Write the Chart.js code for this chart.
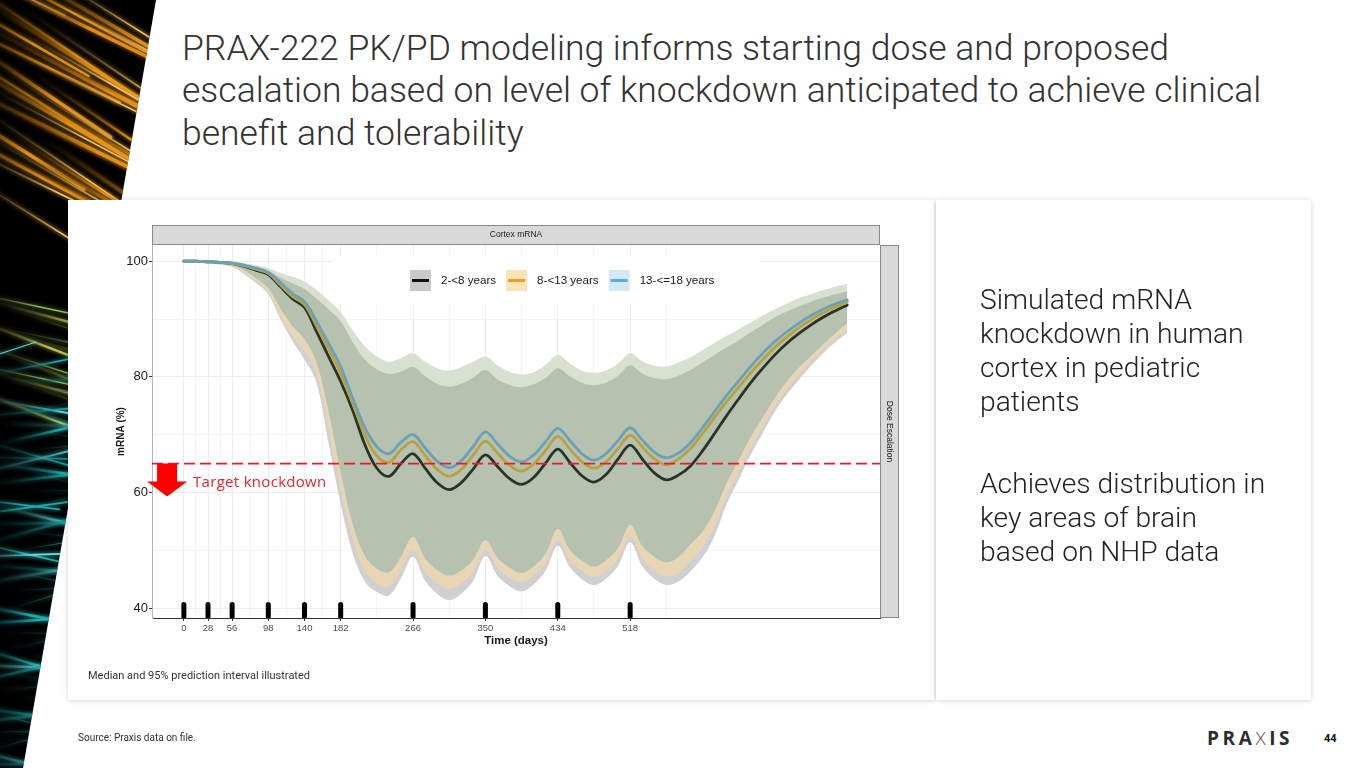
<!DOCTYPE html>
<html>
<head>
<meta charset="utf-8">
<title>PRAX-222 PK/PD modeling</title>
<script src="https://cdn.jsdelivr.net/npm/chart.js@4.4.1/dist/chart.umd.min.js"></script>
<style>
  html, body { margin: 0; padding: 0; background: #fff; }
  body { width: 1365px; height: 768px; position: relative; overflow: hidden; font-family: Roboto, 'Noto Sans', sans-serif; }
  #deco { position: absolute; left: 0; top: 0; }
  .title { position: absolute; left: 182px; top: 26.5px; white-space: nowrap; font-size: 35.5px; line-height: 42.5px; font-weight: 300; color: #333; }
  .card { position: absolute; background: #fff; box-shadow: 0 0 6px rgba(0,0,0,0.13), 0 2px 4px rgba(0,0,0,0.06); }
  #chartCard { left: 68px; top: 200px; width: 866px; height: 500px; }
  #textCard { left: 936px; top: 200px; width: 375px; height: 500px; }
  #chart { position: absolute; left: 2px; top: 0; }
  .side { position: absolute; left: 980px; white-space: nowrap; font-size: 28.2px; line-height: 34px; font-weight: 300; color: #222; }
  .target { position: absolute; left: 193px; top: 472px; font-family: 'Open Sans', sans-serif; font-size: 15px; line-height: 18px; color: #e8262d; letter-spacing: 0.3px; white-space: nowrap; }
  .note { position: absolute; left: 88px; top: 669px; font-size: 11px; line-height: 13px; color: #333; white-space: nowrap; }
  .source { position: absolute; left: 78px; top: 732px; font-size: 10px; line-height: 12px; color: #333; white-space: nowrap; }
  .logo { position: absolute; left: 1207px; top: 726px; font-family: 'Open Sans', sans-serif; font-size: 19px; line-height: 24px; font-weight: 700; letter-spacing: 3.6px; color: #2e2e2e; }
  .logo span { font-weight: 300; color: #555; }
  .page { position: absolute; left: 1324px; top: 732px; font-size: 11px; line-height: 13px; font-weight: 700; color: #111; }
</style>
</head>
<body>
<canvas id="deco" width="170" height="768"></canvas>

<div class="title">PRAX-222 PK/PD modeling informs starting dose and proposed<br>escalation based on level of knockdown anticipated to achieve clinical<br>benefit and tolerability</div>

<div class="card" id="chartCard"><canvas id="chart" width="860" height="460"></canvas></div>
<div class="card" id="textCard"></div>

<div class="target">Target knockdown</div>
<div class="note">Median and 95% prediction interval illustrated</div>

<div class="side" style="top:283px">Simulated mRNA<br>knockdown in human<br>cortex in pediatric<br>patients</div>
<div class="side" style="top:467px">Achieves distribution in<br>key areas of brain<br>based on NHP data</div>

<div class="source">Source: Praxis data on file.</div>
<div class="logo">PRA<span>X</span>IS</div>
<div class="page">44</div>

<script>
// time grid (days)
const days = [
  0, 14, 28, 42, 56, 70, 84, 98, 112, 126, 140, 154, 168, 182,
  196, 210, 224, 238, 252, 266, 280, 294, 308, 322, 336, 350, 364, 378,
  392, 406, 420, 434, 448, 462, 476, 490, 504, 518, 532, 546, 560, 574,
  588, 602, 616, 630, 644, 658, 672, 686, 700, 714, 728, 742, 756, 770
];

// medians
const med2_8 = [
  100, 100, 99.9, 99.8, 99.6, 99.1, 98.4, 97.7, 95.6, 93.5, 92.0, 87.8, 83.5, 79.2,
  74.2, 68.3, 64.2, 62.8, 65.0, 66.7, 64.2, 61.7, 60.5, 61.7, 64.1, 66.5, 64.5, 62.4,
  61.4, 62.6, 65.1, 67.5, 65.2, 62.9, 61.8, 63.1, 65.8, 68.2, 65.8, 63.4, 62.2, 63.0,
  64.6, 67.2, 70.2, 73.3, 76.2, 79.0, 81.5, 83.8, 85.8, 87.5, 89.0, 90.3, 91.4, 92.4
];
const med8_13 = [
  100, 100, 99.9, 99.8, 99.6, 99.2, 98.6, 97.9, 95.9, 93.9, 92.5, 88.8, 84.8, 80.6,
  75.4, 70.0, 66.3, 65.2, 67.4, 68.8, 66.4, 64.0, 62.8, 64.0, 66.5, 68.9, 66.8, 64.7,
  63.7, 64.9, 67.3, 69.7, 67.5, 65.3, 64.2, 65.3, 67.6, 69.9, 67.9, 65.8, 64.8, 65.8,
  67.6, 70.2, 73.0, 75.7, 78.2, 80.7, 83.0, 85.1, 86.9, 88.5, 89.9, 91.1, 92.1, 92.9
];
const med13_18 = [
  100, 100, 99.9, 99.8, 99.7, 99.3, 98.8, 98.1, 96.3, 94.4, 93.0, 89.6, 85.8, 81.8,
  76.3, 71.2, 67.9, 66.7, 68.7, 70.0, 67.7, 65.4, 64.3, 65.5, 68.0, 70.5, 68.4, 66.3,
  65.3, 66.5, 68.8, 71.1, 69.0, 66.7, 65.6, 66.7, 69.0, 71.2, 69.1, 67.0, 66.0, 66.8,
  68.6, 71.2, 74.0, 76.8, 79.3, 81.8, 84.1, 86.1, 87.8, 89.3, 90.6, 91.7, 92.6, 93.3
];

// 95% prediction interval bounds
const lo2_8 = [
  100, 99.9, 99.7, 99.4, 99.0, 97.8, 96.2, 94.3, 90.0, 86.2, 83.0, 79.0, 68.5, 58.0,
  49.5, 44.6, 42.8, 42.2, 45.2, 48.9, 44.8, 42.5, 41.4, 42.5, 44.8, 49.0, 45.6, 43.8,
  42.9, 44.1, 46.5, 50.8, 47.1, 45.0, 44.0, 45.1, 47.3, 51.4, 47.3, 45.1, 44.0, 44.6,
  46.4, 48.8, 52.5, 58.0, 62.2, 66.6, 70.3, 74.0, 77.0, 79.5, 81.9, 84.1, 86.0, 87.6
];
const hi2_8 = [
  100, 100, 99.9, 99.8, 99.6, 99.4, 98.9, 98.2, 97.2, 96.2, 95.2, 93.5, 91.7, 89.6,
  86.0, 83.0, 81.3, 80.5, 80.9, 81.7, 80.1, 78.8, 78.3, 78.8, 79.9, 81.2, 79.6, 78.6,
  78.2, 78.7, 79.8, 81.5, 80.1, 79.0, 78.6, 79.0, 80.2, 82.0, 80.6, 79.8, 79.6, 80.2,
  81.2, 82.5, 83.8, 85.1, 86.3, 87.7, 89.0, 90.3, 91.3, 92.2, 93.0, 93.7, 94.3, 94.8
];
const lo8_13 = [
  100, 99.9, 99.8, 99.5, 99.1, 98.0, 96.5, 94.6, 90.6, 87.0, 84.5, 80.5, 71.0, 60.5,
  51.8, 46.5, 44.3, 43.7, 46.5, 50.0, 46.3, 44.3, 43.3, 44.3, 46.4, 50.1, 47.0, 45.3,
  44.5, 45.6, 47.8, 51.8, 48.3, 46.4, 45.4, 46.5, 48.6, 52.4, 48.6, 46.5, 45.5, 46.2,
  48.2, 50.6, 54.2, 59.5, 63.6, 67.8, 71.4, 75.0, 77.9, 80.4, 82.7, 84.8, 86.7, 88.2
];
const hi8_13 = [
  100, 100, 99.9, 99.8, 99.7, 99.5, 99.1, 98.5, 97.6, 96.8, 95.8, 94.2, 92.4, 90.4,
  87.0, 84.1, 82.4, 81.5, 82.0, 82.9, 81.3, 80.1, 79.7, 80.2, 81.2, 82.3, 80.8, 79.7,
  79.3, 79.7, 80.9, 82.6, 81.2, 80.0, 79.6, 80.0, 81.2, 83.0, 81.6, 80.8, 80.7, 81.3,
  82.3, 83.5, 84.8, 86.1, 87.2, 88.5, 89.8, 91.0, 92.0, 92.9, 93.6, 94.3, 94.9, 95.4
];
const lo13_18 = [
  100, 99.9, 99.8, 99.6, 99.3, 98.4, 97.0, 95.3, 91.8, 88.8, 86.5, 82.5, 74.0, 63.5,
  54.5, 49.0, 46.8, 46.2, 48.9, 52.3, 48.6, 46.6, 45.6, 46.5, 48.4, 51.8, 48.7, 47.0,
  46.1, 47.2, 49.5, 53.7, 50.1, 48.2, 47.2, 48.3, 50.4, 54.4, 50.8, 48.9, 47.9, 48.8,
  51.0, 53.2, 56.8, 61.6, 65.6, 69.6, 73.0, 76.4, 79.2, 81.6, 83.6, 85.6, 87.5, 89.3
];
const hi13_18 = [
  100, 100, 100, 99.9, 99.8, 99.7, 99.3, 98.8, 98.0, 97.3, 96.5, 95.0, 93.2, 91.2,
  88.0, 85.3, 83.5, 82.6, 83.2, 84.1, 82.6, 81.5, 81.1, 81.7, 82.6, 83.5, 82.0, 80.9,
  80.4, 80.8, 82.1, 83.8, 82.3, 81.1, 80.7, 81.1, 82.3, 84.1, 82.7, 81.9, 81.8, 82.5,
  83.4, 84.6, 85.9, 87.1, 88.2, 89.4, 90.6, 91.7, 92.7, 93.6, 94.3, 95.0, 95.6, 96.1
];

const doseDays = [0, 28, 56, 98, 140, 182, 266, 350, 434, 518];
const xMinor = [14, 42, 77, 119, 161, 224, 308, 392, 476, 560];
const yTicks = [40, 60, 80, 100];
const yMinor = [50, 70, 90];
const seriesLabels = ['2-<8 years', '8-<13 years', '13-<=18 years'];
const targetKnockdown = 65;
const doseMarkerLevel = 39.6;

// ---- left decoration (fibre streaks) ----
(function () {
  const d = document.getElementById('deco').getContext('2d');
  d.fillStyle = '#000';
  d.beginPath();
  d.moveTo(0, 0); d.lineTo(156, 0); d.lineTo(23, 768); d.lineTo(0, 768);
  d.closePath();
  d.fill();
  d.save();
  d.clip();
  d.lineCap = 'round';
  function streak(x, y, ang, len, col, w) {
    const a = ang * Math.PI / 180;
    const x2 = x + Math.cos(a) * len, y2 = y + Math.sin(a) * len;
    const g = d.createLinearGradient(x, y, x2, y2);
    g.addColorStop(0, 'rgba(0,0,0,0)');
    g.addColorStop(0.6, col);
    g.addColorStop(1, col);
    d.strokeStyle = g;
    d.lineWidth = w;
    d.shadowColor = col;
    d.shadowBlur = 4;
    d.beginPath(); d.moveTo(x, y); d.lineTo(x2, y2); d.stroke();
  }
  for (let i = 0; i < 34; i++) {
    streak(-70 + (i * 37) % 120, -50 + i * 6.5, 26 + (i % 5) * 2, 150 + (i * 53) % 120,
      i % 3 ? 'rgba(230,145,20,0.95)' : 'rgba(255,195,90,1)', 1.6 + (i % 3) * 0.9);
  }
  for (let i = 0; i < 12; i++) {
    streak(-40 + (i * 23) % 60, 290 + i * 9, 12 + (i % 4) * 3, 130 + (i * 31) % 80,
      i % 2 ? 'rgba(200,205,80,0.9)' : 'rgba(150,200,90,0.9)', 1.4 + (i % 2));
  }
  for (let i = 0; i < 60; i++) {
    streak(-50 + (i * 29) % 90, 370 + i * 6.7, -18 + (i * 7) % 36, 90 + (i * 41) % 110,
      i % 4 ? 'rgba(30,175,175,0.95)' : 'rgba(100,225,225,1)', 1 + (i % 3) * 0.8);
  }
  d.restore();
})();

// ---- chart ----
function pts(arr) { return days.map((d, i) => ({ x: d, y: arr[i] })); }

const band = { pointRadius: 0, borderWidth: 0, borderColor: 'rgba(0,0,0,0)', tension: 0.35 };
const median = { pointRadius: 0, borderWidth: 2.8, fill: false, tension: 0.35, borderCapStyle: 'round' };

const facetStrips = {
  id: 'facetStrips',
  afterDraw(chart) {
    const c = chart.ctx, a = chart.chartArea;
    c.save();
    c.fillStyle = '#d9d9d9';
    c.strokeStyle = '#8a8a8a';
    c.lineWidth = 1;
    c.fillRect(a.left, a.top - 20, a.right - a.left, 20);
    c.strokeRect(a.left + 0.5, a.top - 19.5, a.right - a.left - 1, 19);
    c.fillRect(a.right, a.top, 19, a.bottom - a.top);
    c.strokeRect(a.right + 0.5, a.top + 0.5, 18, a.bottom - a.top - 1);
    c.fillStyle = '#1a1a1a';
    c.font = '8.5px "Liberation Sans", Arial, sans-serif';
    c.textAlign = 'center';
    c.textBaseline = 'middle';
    c.fillText('Cortex mRNA', (a.left + a.right) / 2, a.top - 10);
    c.translate(a.right + 9.5, (a.top + a.bottom) / 2);
    c.rotate(Math.PI / 2);
    c.fillText('Dose Escalation', 0, 0);
    c.restore();
  }
};

const ggLegend = {
  id: 'ggLegend',
  beforeDatasetsDraw(chart) {
    const c = chart.ctx;
    const keys = [
      { fill: '#c9c9c9', line: '#111' },
      { fill: '#fbe3b8', line: '#e6a126' },
      { fill: '#d3eaf5', line: '#5aaedb' }
    ];
    c.save();
    c.fillStyle = '#fff';
    c.fillRect(263, 55, 427, 50);
    c.font = '11.6px "Liberation Sans", Arial, sans-serif';
    c.textBaseline = 'middle';
    let x = 340;
    const y = 70;
    seriesLabels.forEach((lab, i) => {
      c.fillStyle = keys[i].fill;
      c.fillRect(x, y, 21, 21);
      c.strokeStyle = keys[i].line;
      c.lineWidth = 3;
      c.beginPath(); c.moveTo(x + 2, y + 10.5); c.lineTo(x + 19, y + 10.5); c.stroke();
      c.fillStyle = '#1a1a1a';
      c.fillText(lab, x + 31, y + 11);
      x = x + 31 + c.measureText(lab).width + 10;
    });
    c.restore();
  }
};

const targetArrow = {
  id: 'targetArrow',
  afterDatasetsDraw(chart) {
    const c = chart.ctx, xs = chart.scales.x, ys = chart.scales.y;
    const cx = xs.getPixelForValue(-19.5);
    const top = ys.getPixelForValue(targetKnockdown);
    c.save();
    c.fillStyle = '#ff0000';
    c.beginPath();
    c.moveTo(cx - 10, top); c.lineTo(cx + 10, top); c.lineTo(cx + 10, top + 18);
    c.lineTo(cx + 20, top + 18); c.lineTo(cx, top + 33); c.lineTo(cx - 20, top + 18);
    c.lineTo(cx - 10, top + 18);
    c.closePath();
    c.fill();
    c.restore();
  }
};

const roundCaps = {
  id: 'roundCaps',
  beforeDatasetDraw(chart, args) { if (args.index === 11) chart.ctx.lineCap = 'round'; },
  afterDatasetDraw(chart, args) { if (args.index === 11) chart.ctx.lineCap = 'butt'; }
};

const isMajorY = v => yTicks.includes(v);
const isMajorX = v => doseDays.includes(v);

new Chart(document.getElementById('chart').getContext('2d'), {
  type: 'line',
  data: {
    datasets: [
      { ...band, label: 'lo ' + seriesLabels[0], data: pts(lo2_8), fill: false, order: 10 },
      { ...band, label: 'hi ' + seriesLabels[0], data: pts(hi2_8), fill: { target: 0 }, backgroundColor: '#d0d0d3', order: 9 },
      { ...band, label: 'lo ' + seriesLabels[1], data: pts(lo8_13), fill: false, order: 8 },
      { ...band, label: 'hi ' + seriesLabels[1], data: pts(hi8_13), fill: { target: 2 }, backgroundColor: '#e8d5b3', order: 7 },
      { ...band, label: 'lo ' + seriesLabels[2], data: pts(lo13_18), fill: false, order: 6 },
      { ...band, label: 'hi ' + seriesLabels[2], data: pts(hi13_18), fill: { target: 4 }, backgroundColor: '#d8e1d0', order: 5 },
      { ...band, label: 'overlap', data: pts(hi2_8), fill: { target: 4 }, backgroundColor: '#b7c1af', order: 4 },
      { ...median, label: seriesLabels[0], data: pts(med2_8), borderColor: '#283427', order: 3 },
      { ...median, label: seriesLabels[1], data: pts(med8_13), borderColor: '#b9a23e', order: 2 },
      { ...median, label: seriesLabels[2], data: pts(med13_18), borderColor: '#6aa0b8', order: 1 },
      {
        label: 'Target knockdown', data: [{ x: -37, y: targetKnockdown }, { x: 808, y: targetKnockdown }],
        borderColor: '#e41e26', borderWidth: 1.8, borderDash: [11, 5], pointRadius: 0, fill: false, order: 0
      },
      {
        type: 'scatter', label: 'Dose', data: doseDays.map(d => ({ x: d, y: doseMarkerLevel })),
        pointStyle: 'line', rotation: 90, pointRadius: 6, borderWidth: 5,
        borderColor: '#000', backgroundColor: '#000', order: 0
      }
    ]
  },
  options: {
    responsive: false,
    animation: false,
    events: [],
    layout: { padding: { left: 45, right: 50, top: 45, bottom: 10 } },
    plugins: { legend: { display: false }, tooltip: { enabled: false } },
    scales: {
      x: {
        type: 'linear', min: -37, max: 808,
        afterBuildTicks: s => { s.ticks = doseDays.concat(xMinor).sort((a, b) => a - b).map(v => ({ value: v })); },
        afterFit: s => { s.height = 32; },
        ticks: {
          autoSkip: false, maxRotation: 0, padding: 2,
          callback: v => isMajorX(v) ? String(v) : '',
          font: { family: 'Liberation Sans', size: 9.5 }, color: '#4d4d4d'
        },
        grid: {
          color: c => isMajorX(c.tick.value) ? '#ececec' : '#f4f4f4',
          tickColor: c => isMajorX(c.tick.value) ? '#333' : 'rgba(0,0,0,0)',
          tickLength: 3
        },
        border: { color: '#333' },
        title: {
          display: true, text: 'Time (days)', color: '#1a1a1a',
          font: { family: 'Liberation Sans', size: 11.5, weight: 'bold' }, padding: { top: 0, bottom: 2 }
        }
      },
      y: {
        min: 38.3, max: 102.8,
        afterBuildTicks: s => { s.ticks = yTicks.concat(yMinor).sort((a, b) => a - b).map(v => ({ value: v })); },
        afterFit: s => { s.width = 37; },
        ticks: {
          autoSkip: false, padding: 1,
          callback: v => isMajorY(v) ? String(v) : '',
          font: { family: 'Liberation Sans', size: 13 }, color: '#1a1a1a'
        },
        grid: {
          color: c => isMajorY(c.tick.value) ? '#ececec' : '#f4f4f4',
          tickColor: c => isMajorY(c.tick.value) ? '#333' : 'rgba(0,0,0,0)',
          tickLength: 3
        },
        border: { color: '#b5b5b5' },
        title: {
          display: true, text: 'mRNA (%)', color: '#1a1a1a',
          font: { family: 'Liberation Sans', size: 10, weight: 'bold' }, padding: { top: 0, bottom: 0 }
        }
      }
    }
  },
  plugins: [facetStrips, ggLegend, targetArrow, roundCaps]
});
</script>
</body>
</html>
